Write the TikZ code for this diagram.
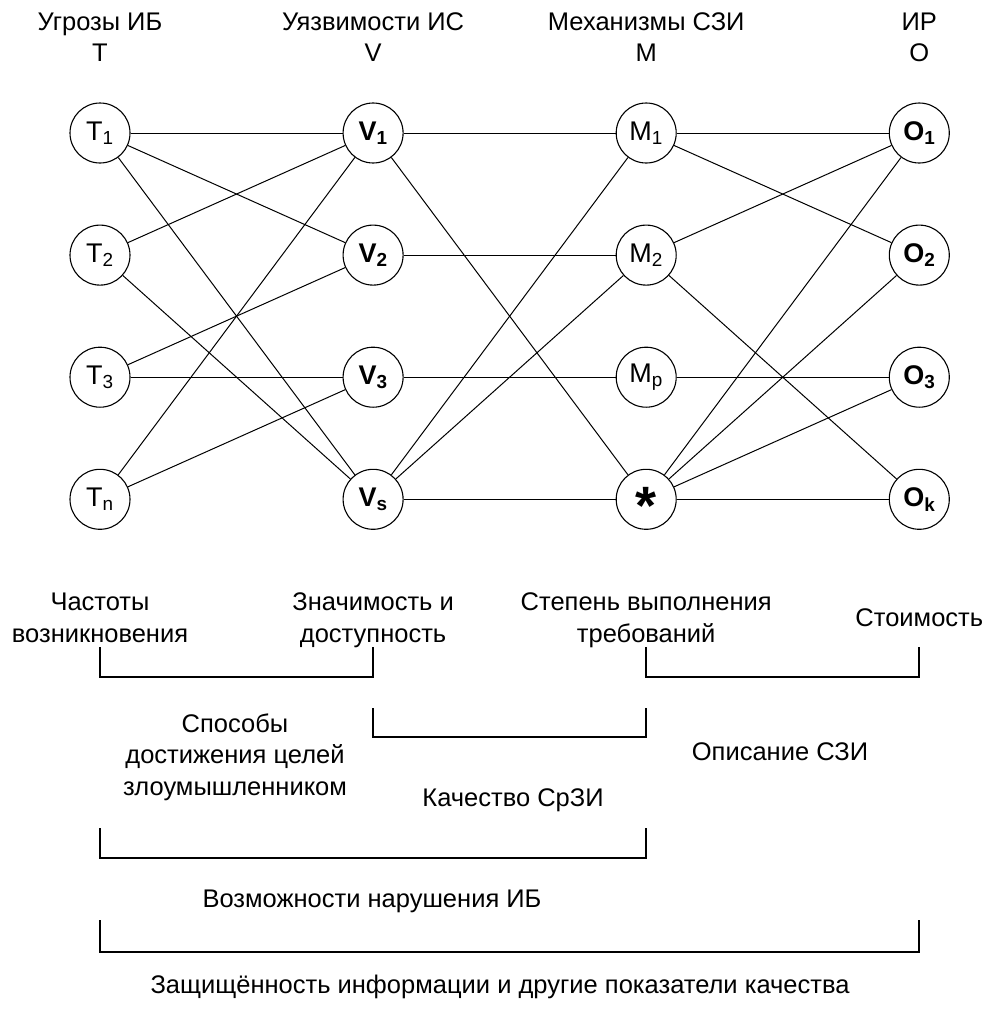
\documentclass[tikz,border=0pt]{standalone}
\usepackage{fontspec}
\setmainfont{Liberation Sans}
\usetikzlibrary{positioning}

\begin{document}
\begin{tikzpicture}[
    x=1pt, y=-1pt,
    node distance=61pt and 212pt,
    elem/.style={circle, draw, line width=1.1pt, minimum size=60pt, inner sep=0pt, font=\fontsize{27}{27}\selectfont},
    edge/.style={line width=1pt},
    bracket/.style={line width=2pt},
    head/.style={align=center, inner sep=0pt, font=\fontsize{25.5}{31}\selectfont},
    txt/.style={align=center, inner sep=0pt, font=\fontsize{25.5}{31.5}\selectfont}
]
\useasboundingbox (0,0) rectangle (983,1010);

% Nodes
\node[elem] (t1) at (100,133) {T\textsubscript{1}};
\node[elem, below=of t1] (t2) {T\textsubscript{2}};
\node[elem, below=of t2] (t3) {T\textsubscript{3}};
\node[elem, below=of t3] (tn) {T\textsubscript{n}};
\node[elem, right=of t1] (v1) {\textbf{V\textsubscript{1}}};
\node[elem, right=of t2] (v2) {\textbf{V\textsubscript{2}}};
\node[elem, right=of t3] (v3) {\textbf{V\textsubscript{3}}};
\node[elem, right=of tn] (vs) {\textbf{V\textsubscript{s}}};
\node[elem, right=of v1] (m1) {M\textsubscript{1}};
\node[elem, right=of v2] (m2) {M\textsubscript{2}};
\node[elem, right=of v3] (mp) {M\textsubscript{p}};
\node[elem, right=of vs] (star) {\fontsize{54}{54}\selectfont\bfseries\raisebox{-0.47em}[0pt][0pt]{*}};
\node[elem, right=of m1] (o1) {\textbf{O\textsubscript{1}}};
\node[elem, right=of m2] (o2) {\textbf{O\textsubscript{2}}};
\node[elem, right=of mp] (o3) {\textbf{O\textsubscript{3}}};
\node[elem, right=of star] (ok) {\textbf{O\textsubscript{k}}};

% Headers
\node[head, above=41pt of t1] (threats) {Угрозы ИБ\\T};
\node[head, above=41pt of v1] (vulns) {Уязвимости ИС\\V};
\node[head, above=41pt of m1] (mechs) {Механизмы СЗИ\\M};
\node[head, above=41pt of o1] (res) {ИР\\O};

% Edges
\draw[edge] (t1) -- (v1);
\draw[edge] (t1) -- (v2);
\draw[edge] (t1) -- (vs);
\draw[edge] (t2) -- (v1);
\draw[edge] (t2) -- (vs);
\draw[edge] (t3) -- (v2);
\draw[edge] (t3) -- (v3);
\draw[edge] (tn) -- (v1);
\draw[edge] (tn) -- (v3);
\draw[edge] (v1) -- (m1);
\draw[edge] (v1) -- (star);
\draw[edge] (v2) -- (m2);
\draw[edge] (v3) -- (mp);
\draw[edge] (vs) -- (m1);
\draw[edge] (vs) -- (m2);
\draw[edge] (vs) -- (star);
\draw[edge] (m1) -- (o1);
\draw[edge] (m1) -- (o2);
\draw[edge] (m2) -- (o1);
\draw[edge] (m2) -- (ok);
\draw[edge] (mp) -- (o3);
\draw[edge] (star) -- (o1);
\draw[edge] (star) -- (o2);
\draw[edge] (star) -- (o3);
\draw[edge] (star) -- (ok);

% Labels
\node[txt, below=63pt of tn] (freq) {Частоты\\возникновения};
\node[txt, below=63pt of vs] (signif) {Значимость и\\доступность};
\node[txt, below=63pt of star] (degree) {Степень выполнения\\требований};
\node[txt, below=78.5pt of ok] (cost) {Стоимость};
\node[txt] (ways) at (235,757) {Способы\\достижения целей\\злоумышленником};
\node[txt] (descr) at (780,752) {Описание СЗИ};
\node[txt] (quality) at (513,800) {Качество СрЗИ};
\node[txt] (possib) at (372,901) {Возможности нарушения ИБ};
\node[txt] (secure) at (500,987) {Защищённость информации и другие показатели качества};

% Brackets
\draw[bracket] (tn |- 0,647) -- (tn |- 0,677) -- (vs |- 0,677) -- (vs |- 0,647);
\draw[bracket] (star |- 0,647) -- (star |- 0,677) -- (ok |- 0,677) -- (ok |- 0,647);
\draw[bracket] (vs |- 0,708) -- (vs |- 0,737) -- (star |- 0,737) -- (star |- 0,708);
\draw[bracket] (tn |- 0,828) -- (tn |- 0,858) -- (star |- 0,858) -- (star |- 0,828);
\draw[bracket] (tn |- 0,920) -- (tn |- 0,952) -- (ok |- 0,952) -- (ok |- 0,920);

\end{tikzpicture}
\end{document}
